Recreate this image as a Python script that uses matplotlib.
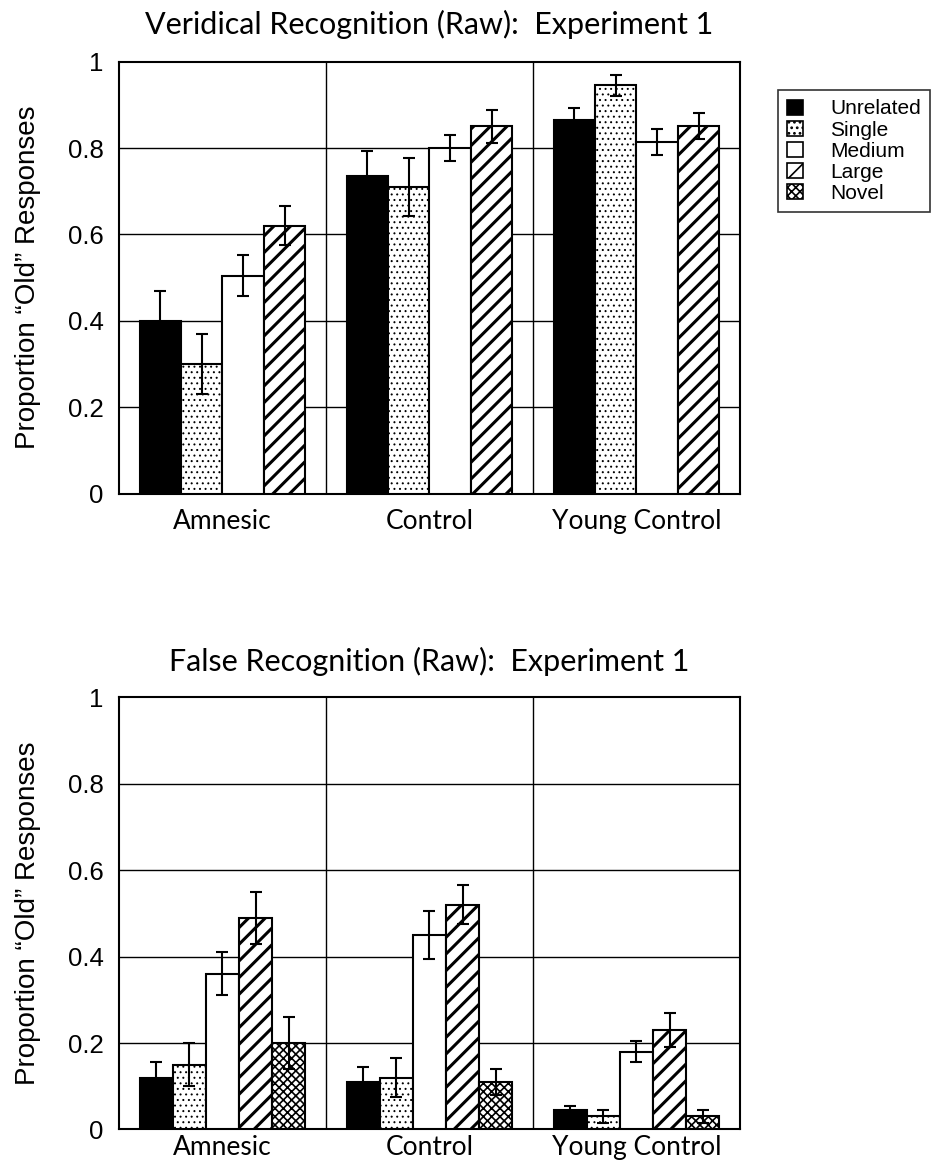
import matplotlib
matplotlib.use('Agg')
import matplotlib.pyplot as plt
from matplotlib.patches import Patch
import numpy as np

groups = ['Amnesic', 'Control', 'Young Control']

# veridical recognition (top panel)
ver_conditions = ['Unrelated', 'Single', 'Medium', 'Large']
ver_means = {
    'Unrelated': [0.40, 0.735, 0.865],
    'Single':    [0.30, 0.71, 0.945],
    'Medium':    [0.505, 0.80, 0.815],
    'Large':     [0.62, 0.85, 0.85],
}
ver_err = {
    'Unrelated': [0.07, 0.057, 0.028],
    'Single':    [0.07, 0.067, 0.025],
    'Medium':    [0.047, 0.03, 0.03],
    'Large':     [0.045, 0.038, 0.03],
}

# false recognition (bottom panel)
false_conditions = ['Unrelated', 'Single', 'Medium', 'Large', 'Novel']
false_means = {
    'Unrelated': [0.12, 0.11, 0.045],
    'Single':    [0.15, 0.12, 0.03],
    'Medium':    [0.36, 0.45, 0.18],
    'Large':     [0.49, 0.52, 0.23],
    'Novel':     [0.20, 0.11, 0.03],
}
false_err = {
    'Unrelated': [0.035, 0.035, 0.01],
    'Single':    [0.05, 0.045, 0.015],
    'Medium':    [0.05, 0.055, 0.025],
    'Large':     [0.06, 0.045, 0.04],
    'Novel':     [0.06, 0.03, 0.015],
}

yticks = [0, 0.2, 0.4, 0.6, 0.8, 1.0]
ytick_labels = ['0', '0.2', '0.4', '0.6', '0.8', '1']

# fill colour, hatch, hatch linewidth
styles = {
    'Unrelated': ('black', None, 1.0),
    'Single':    ('white', '...', 0.7),
    'Medium':    ('white', None, 1.0),
    'Large':     ('white', '//', 2.2),
    'Novel':     ('white', 'xxxx', 1.2),
}

TITLE_FONT = ['Lato', 'DejaVu Sans']
TICK_FONT = ['Liberation Sans', 'DejaVu Sans']

plt.rcParams['hatch.color'] = 'black'


def draw_panel(ax, conditions, means, errs, title, title_pad, xpad):
    n = len(conditions)
    width = 0.8 / n
    x = np.arange(len(groups))
    for i, cond in enumerate(conditions):
        fc, hatch, hlw = styles[cond]
        plt.rcParams['hatch.linewidth'] = hlw
        pos = x - 0.4 + width * (i + 0.5)
        bars = ax.bar(pos, means[cond], width, color=fc, edgecolor='black',
                      linewidth=1.5, hatch=hatch, zorder=3)
        for b in bars:
            if hasattr(b, 'set_hatch_linewidth'):
                b.set_hatch_linewidth(hlw)
        ax.errorbar(pos, means[cond], yerr=errs[cond], fmt='none',
                    ecolor='black', elinewidth=1.5, capsize=4, capthick=1.5,
                    zorder=4)
    ax.set_xlim(-0.5, len(groups) - 0.5)
    ax.set_ylim(0, 1)
    ax.set_yticks(yticks)
    ax.set_yticklabels(ytick_labels, family=TICK_FONT, fontsize=18.5)
    ax.set_xticks(x)
    ax.set_xticklabels(groups, family=TITLE_FONT, fontsize=19)
    ax.tick_params(length=0)
    ax.tick_params(axis='y', pad=11)
    ax.tick_params(axis='x', pad=xpad)
    for yv in yticks[1:-1]:
        ax.axhline(yv, color='black', linewidth=1.0, zorder=1)
    for xv in x[:-1] + 0.5:
        ax.axvline(xv, color='black', linewidth=1.0, zorder=1)
    for s in ax.spines.values():
        s.set_linewidth(1.5)
    ax.set_ylabel('Proportion \u201cOld\u201d Responses', family=TICK_FONT,
                  fontsize=20)
    ax.yaxis.set_label_coords(-0.125, 0.5)
    ax.set_title(title, family=TITLE_FONT, fontsize=22, pad=title_pad)


fig = plt.figure(figsize=(9.48, 11.62), dpi=100)
ax1 = fig.add_axes([0.1255, 0.575, 0.655, 0.372])
ax2 = fig.add_axes([0.1255, 0.028, 0.655, 0.372])

draw_panel(ax1, ver_conditions, ver_means, ver_err,
           'Veridical Recognition (Raw):  Experiment 1', 20, 11)
draw_panel(ax2, false_conditions, false_means, false_err,
           'False Recognition (Raw):  Experiment 1', 19, 4)

handles = []
for cond in false_conditions:
    fc, hatch, hlw = styles[cond]
    plt.rcParams['hatch.linewidth'] = hlw
    h = Patch(facecolor=fc, edgecolor='black', hatch=hatch, linewidth=1.2,
              label=cond)
    if hasattr(h, 'set_hatch_linewidth'):
        h.set_hatch_linewidth(hlw)
    handles.append(h)

leg = fig.legend(handles=handles, loc='upper left',
                 bbox_to_anchor=(0.8207, 0.9225), frameon=True, fancybox=False,
                 edgecolor='black', prop={'family': TICK_FONT, 'size': 15},
                 handlelength=0.75, handleheight=0.75, handletextpad=1.3,
                 labelspacing=0.1, borderpad=0.45, borderaxespad=0)
leg.get_frame().set_linewidth(1.2)

fig.savefig('out.png', dpi=100)
